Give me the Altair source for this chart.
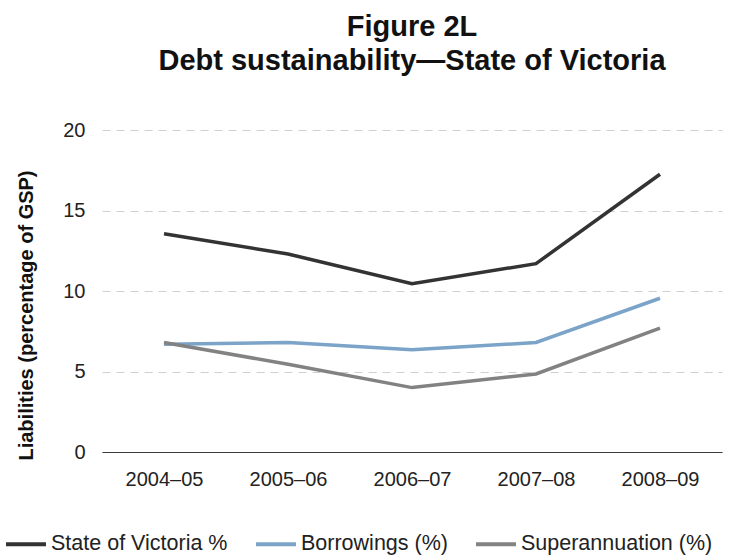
import altair as alt
import pandas as pd

years = ["2004–05", "2005–06", "2006–07", "2007–08", "2008–09"]
series_names = ["State of Victoria %", "Borrowings (%)", "Superannuation (%)"]
state_vals = [13.55, 12.3, 10.45, 11.7, 17.25]
borrow_vals = [6.7, 6.8, 6.35, 6.8, 9.55]
super_vals = [6.8, 5.45, 4.0, 4.85, 7.7]
colors = ["#333333", "#7ba4c8", "#828282"]

rows = []
for name, vals in zip(series_names, [state_vals, borrow_vals, super_vals]):
    for y, v in zip(years, vals):
        rows.append({"Year": y, "Series": name, "Value": v})
df = pd.DataFrame(rows)

FONT = "Liberation Sans, Arial, sans-serif"

chart = (
    alt.Chart(df)
    .mark_line(strokeWidth=3.5)
    .encode(
        x=alt.X(
            "Year:N",
            sort=years,
            scale=alt.Scale(type="point", padding=0.5),
            axis=alt.Axis(
                title=None,
                labelAngle=0,
                ticks=False,
                tickSize=0,
                grid=False,
                domain=True,
                domainColor="#3a3a3a",
                domainWidth=1,
                labelFont=FONT,
                labelFontSize=20,
                labelColor="#222222",
                labelPadding=17,
            ),
        ),
        y=alt.Y(
            "Value:Q",
            scale=alt.Scale(domain=[0, 20], nice=False),
            axis=alt.Axis(
                title="Liabilities (percentage of GSP)",
                values=[0, 5, 10, 15, 20],
                ticks=False,
                tickSize=0,
                domain=False,
                grid=True,
                gridColor="#d0d0d0",
                gridDash=[8, 6],
                gridWidth=1,
                labelFont=FONT,
                labelFontSize=20,
                labelColor="#222222",
                labelPadding=17,
                titleFont=FONT,
                titleFontSize=20,
                titleFontWeight="bold",
                titleColor="#111111",
                titleAngle=270,
                titleAlign="center",
                titleBaseline="alphabetic",
                titleX=-70,
                titleY=185,
            ),
        ),
        color=alt.Color(
            "Series:N",
            scale=alt.Scale(domain=series_names, range=colors),
            legend=alt.Legend(
                title=None,
                orient="none",
                legendX=-98,
                legendY=392,
                direction="horizontal",
                symbolType="stroke",
                symbolSize=1600,
                symbolStrokeWidth=4,
                labelFont=FONT,
                labelFontSize=21.5,
                labelColor="#222222",
                labelOffset=3,
                columnPadding=20,
                labelLimit=300,
            ),
        ),
        order=alt.Order("Series:N"),
    )
    .properties(
        width=620,
        height=322,
        background="white",
        autosize=alt.AutoSizeParams(type="none"),
        padding={"left": 102, "top": 130, "right": 17, "bottom": 105},
        title=alt.TitleParams(
            text=["Figure 2L", "Debt sustainability—State of Victoria"],
            font=FONT,
            fontSize=29,
            fontWeight="bold",
            color="#111111",
            anchor="middle",
            lineHeight=34,
            offset=44,
        ),
    )
    .configure_view(strokeWidth=0, stroke="transparent")
)

chart.save("out.html", embed_options={"renderer": "svg", "actions": False})
